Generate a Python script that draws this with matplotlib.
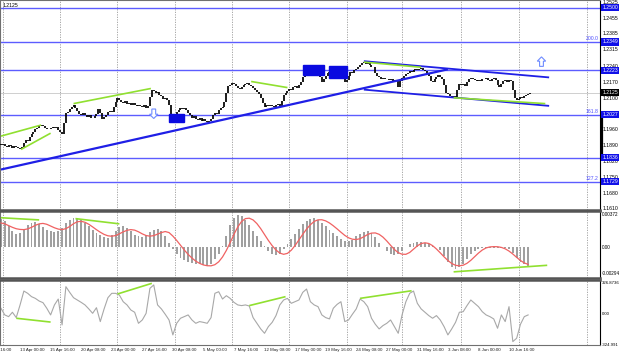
import matplotlib
matplotlib.use('Agg')
import matplotlib.pyplot as plt
import matplotlib.transforms as mtransforms
from matplotlib.patches import Rectangle, Polygon
import numpy as np

plt.rcParams['font.family'] = ['Liberation Sans', 'DejaVu Sans']

# EURUSD H4, 4-hour closes (bar 0 = 8 Apr 20:00)
first_open = 1.1898
closes = [
    1.1893, 1.1899, 1.1890, 1.1884, 1.1892, 1.1888, 1.1881, 1.1890, 1.1886, 1.1879,
    1.1874, 1.1885, 1.1902, 1.1915, 1.1909, 1.1928, 1.1941, 1.1952, 1.1964, 1.1970,
    1.1978, 1.1983, 1.1976, 1.1969, 1.1965, 1.1962, 1.1970, 1.1974, 1.1968, 1.1972,
    1.1960, 1.1952, 1.1943, 1.1990, 1.2034, 1.2041, 1.2050, 1.2061, 1.2068, 1.2056,
    1.2042, 1.2030, 1.2024, 1.2033, 1.2027, 1.2018, 1.2025, 1.2014, 1.2011, 1.2020,
    1.2028, 1.2052, 1.2036, 1.2009, 1.2015, 1.2026, 1.2038, 1.2045, 1.2041, 1.2063,
    1.2085, 1.2099, 1.2090, 1.2082, 1.2078, 1.2086, 1.2074, 1.2080, 1.2071, 1.2077,
    1.2069, 1.2064, 1.2072, 1.2066, 1.2060, 1.2068, 1.2057, 1.2064, 1.2105, 1.2136,
    1.2130, 1.2122, 1.2127, 1.2114, 1.2108, 1.2098, 1.2103, 1.2090, 1.2072, 1.2025,
    1.2015, 1.2020, 1.2038, 1.2049, 1.2055, 1.2051, 1.2058, 1.2046, 1.2033, 1.2024,
    1.2012, 1.2019, 1.2010, 1.2004, 1.2013, 1.2001, 1.2006, 1.1997, 1.1993, 1.1999,
    1.2008, 1.2027, 1.2035, 1.2029, 1.2046, 1.2057, 1.2062, 1.2085, 1.2121, 1.2152,
    1.2160, 1.2168, 1.2164, 1.2155, 1.2147, 1.2140, 1.2151, 1.2158, 1.2163, 1.2168,
    1.2160, 1.2152, 1.2146, 1.2137, 1.2128, 1.2117, 1.2103, 1.2078, 1.2061, 1.2070,
    1.2064, 1.2072, 1.2066, 1.2060, 1.2069, 1.2074, 1.2063, 1.2087, 1.2114, 1.2122,
    1.2131, 1.2140, 1.2136, 1.2148, 1.2152, 1.2145, 1.2160, 1.2170, 1.2195, 1.2221,
    1.2226, 1.2219, 1.2228, 1.2222, 1.2215, 1.2218, 1.2207, 1.2195, 1.2172, 1.2184,
    1.2200, 1.2212, 1.2218, 1.2214, 1.2221, 1.2226, 1.2219, 1.2211, 1.2205, 1.2198,
    1.2172, 1.2181, 1.2200, 1.2215, 1.2211, 1.2224, 1.2230, 1.2238, 1.2249, 1.2256,
    1.2262, 1.2251, 1.2258, 1.2245, 1.2240, 1.2236, 1.2212, 1.2200, 1.2193, 1.2186,
    1.2190, 1.2183, 1.2187, 1.2180, 1.2185, 1.2176, 1.2182, 1.2178, 1.2150, 1.2174,
    1.2190, 1.2197, 1.2205, 1.2212, 1.2222, 1.2218, 1.2226, 1.2229, 1.2224, 1.2231,
    1.2235, 1.2226, 1.2219, 1.2212, 1.2198, 1.2176, 1.2170, 1.2186, 1.2195, 1.2202,
    1.2196, 1.2185, 1.2160, 1.2124, 1.2118, 1.2108, 1.2103, 1.2109, 1.2104, 1.2135,
    1.2165, 1.2158, 1.2161, 1.2154, 1.2170, 1.2185, 1.2190, 1.2183, 1.2179, 1.2175,
    1.2181, 1.2178, 1.2186, 1.2183, 1.2188, 1.2180, 1.2177, 1.2184, 1.2189, 1.2182,
    1.2160, 1.2150, 1.2165, 1.2178, 1.2181, 1.2173, 1.2180, 1.2176, 1.2138, 1.2099,
    1.2092, 1.2097, 1.2105, 1.2101, 1.2108, 1.2112, 1.2117, 1.2125,
]

# MACD (every 2nd bar), units of 1e-4
macd_hist = [
    32.8, 29.9, 24.3, 18.5, 15.4, 16.6, 20.4, 25.2, 28.0, 29.2,
    26.9, 23.0, 20.4, 18.5, 17.7, 18.5, 22.2, 28.0, 31.7, 33.5,
    34.2, 32.8, 28.0, 24.3, 20.4, 16.6, 14.0, 11.7, 10.9, 14.7,
    19.2, 23.0, 24.3, 22.2, 18.5, 14.7, 12.8, 11.7, 14.0, 17.7,
    20.4, 20.8, 18.5, 12.8, 5.3, -2.3, -7.9, -11.7, -14.7, -16.2,
    -17.3, -18.5, -19.2, -20.3, -21.1, -19.2, -13.6, -7.9, 1.5, 12.8,
    26.0, 34.2, 37.3, 36.5, 31.7, 25.2, 18.5, 12.8, 7.0, 1.5,
    -4.1, -7.9, -8.6, -7.1, -2.3, 4.1, 10.2, 15.4, 21.5, 26.9,
    30.6, 32.8, 33.5, 31.7, 28.0, 24.3, 20.4, 16.6, 12.8, 10.2,
    7.9, 7.0, 9.0, 12.8, 15.4, 17.7, 18.5, 16.6, 11.7, 5.3,
    0.8, -4.1, -7.1, -8.6, -7.9, -4.1, 0.8, 3.4, 5.3, 6.4,
    6.4, 5.3, 3.4, 1.5, 0.0, -3.0, -9.8, -16.2, -22.2, -24.9,
    -23.0, -18.5, -13.6, -7.9, -4.1, -1.5, -0.8, -0.4, -0.8, -1.1,
    -0.8, -0.4, -0.8, -1.9, -6.0, -11.7, -16.2, -19.2, -21.1,
]
macd_signal = [
    28.0, 27.0, 25.0, 23.0, 21.4, 20.6, 20.4, 21.2, 23.0, 25.3,
    27.0, 27.5, 26.5, 24.5, 22.5, 21.0, 20.4, 21.5, 24.0, 27.2,
    29.4, 29.9, 28.8, 26.5, 23.5, 20.3, 17.4, 14.9, 13.3, 12.8,
    13.6, 15.6, 17.8, 19.6, 20.4, 19.8, 17.9, 15.5, 13.6, 12.9,
    13.5, 15.2, 17.0, 18.2, 17.0, 13.0, 8.0, 2.5, -3.0, -8.0,
    -12.2, -15.7, -18.3, -20.1, -21.0, -21.1, -19.8, -16.5, -11.0, -3.5,
    5.5, 15.0, 23.5, 29.8, 33.0, 33.5, 31.5, 27.3, 21.5, 14.8,
    8.0, 2.0, -3.0, -6.5, -7.9, -6.8, -3.2, 2.2, 8.6, 15.0,
    21.0, 26.0, 29.8, 31.6, 31.7, 30.4, 28.0, 24.8, 21.2, 17.4,
    13.8, 11.0, 9.4, 9.0, 10.0, 12.2, 14.8, 16.4, 16.6, 15.0,
    11.8, 7.4, 2.4, -2.4, -6.0, -7.8, -7.9, -5.8, -2.0, 1.8,
    4.4, 5.3, 4.5, 2.0, -1.8, -6.2, -10.8, -15.0, -18.4, -20.5,
    -21.1, -20.4, -18.2, -14.8, -10.6, -6.5, -3.0, -0.6, 0.6, 0.9,
    0.8, 0.0, -1.6, -4.2, -7.6, -11.4, -15.0, -17.8, -19.4,
]
# CCI (every 2nd bar)
cci = [
    60, -10, -28, 18, -38, 95, 241, 217, 182, 164,
    136, 119, 60, -10, 95, 157, -115, 287, 227, 171,
    147, 122, 95, 53, 7, 66, -80, 53, 171, 217,
    217, 199, 129, 95, 42, 18, -98, -63, 7, 270,
    305, 95, 53, -3, -63, -220, -98, -45, -28, -10,
    -63, -98, -80, -88, -98, -38, 217, 234, 157, 192,
    164, 122, 95, 88, 95, 84, -38, -98, -157, -203,
    -133, -88, -17, 95, 147, 164, 112, 129, 147, 227,
    262, 129, 95, 77, -10, -38, -52, 60, 101, 129,
    -80, -63, -3, 53, 157, 129, 77, -45, -108, -157,
    -122, -98, -63, -133, -203, -10, 129, 217, 241, 112,
    53, 18, -17, -45, -17, -63, -133, -220, -157, -88,
    18, 24, 88, 147, 112, 77, 24, -10, -28, -52,
    -150, -10, -80, 77, -290, -255, -108, -28, -10,
]

time_labels = ["8 Apr 16:00", "13 Apr 00:00", "15 Apr 16:00", "20 Apr 08:00",
               "23 Apr 00:00", "27 Apr 16:00", "30 Apr 08:00", "5 May 00:00",
               "7 May 16:00", "12 May 08:00", "17 May 00:00", "19 May 16:00",
               "24 May 08:00", "27 May 00:00", "31 May 16:00", "3 Jun 08:00",
               "8 Jun 00:00", "10 Jun 16:00"]
time_label_bars = [-7, 9, 25, 41, 57, 73, 89, 105, 121, 137, 153, 169,
                   185, 201, 217, 233, 249, 265]
grid_bars = [1, 31, 61, 91, 121, 151, 181, 210, 241, 271, 307]

price_ticks = [1.2525, 1.2455, 1.2385, 1.2315, 1.2240, 1.2170, 1.2100,
               1.1960, 1.1890, 1.1820, 1.1750, 1.1680, 1.1610]
levels = [1.2500, 1.2349, 1.2223, 1.2027, 1.1836, 1.1729]
fib_levels = {1.2349: "200.0", 1.2027: "161.8", 1.1729: "127.2"}

# drawn analysis lines: (bar, value) pairs
trend_up = [(0, 1.1784), (234, 1.2228)]
channel_top = [(190, 1.2264), (287, 1.2192)]
channel_bot = [(190, 1.2138), (287, 1.2066)]
green_main = [[(0, 1.1932), (21, 1.1981)], [(10.5, 1.1873), (26, 1.1945)],
              [(38, 1.2076), (78.5, 1.2143)], [(131, 1.2174), (150, 1.2147)],
              [(190, 1.2260), (220, 1.2237)], [(237, 1.2102), (285, 1.2076)]]
green_macd = [[(0, 34.0), (20, 31.5)], [(39, 33.0), (62, 27.0)],
              [(237, -28.0), (286, -20.5)]]
green_cci = [[(8, -45), (26, -85)], [(61, 210), (79, 322)],
             [(130, 88), (149, 182)], [(188, 164), (215, 244)]]
boxes = [(88, 96, 1.1995, 1.2031), (158, 169, 1.2201, 1.2246), (172, 181, 1.2188, 1.2242)]
arrows = [(80, 1.2031, 'down'), (283, 1.2262, 'up')]

W, H = 620, 357
fig = plt.figure(figsize=(W / 100, H / 100), dpi=100)
fig.patch.set_facecolor('white')
R = 600 / W
ax = fig.add_axes([0, 1 - 210 / H, R, 210 / H])
ax2 = fig.add_axes([0, 1 - 278 / H, R, 67 / H])
ax3 = fig.add_axes([0, 1 - 345 / H, R, 65 / H])

XMAX = 600 / 1.91
for a in (ax, ax2, ax3):
    a.set_xlim(-0.5, XMAX - 0.5)
    a.set_xticks([])
    a.set_yticks([])
    for s in a.spines.values():
        s.set_color('#707070')
        s.set_linewidth(0.8)
    a.spines['right'].set_color('black')
    for g in grid_bars:
        a.axvline(g, color='#9a9a9a', lw=0.6, ls=(0, (1.5, 1.5)), zorder=0)
for a, side in ((ax, 'bottom'), (ax2, 'top'), (ax2, 'bottom'), (ax3, 'top')):
    a.spines[side].set_linewidth(1.8)
    a.spines[side].set_color('#555555')

FS = 3.7
FT = 3.2
FL = 3.3
# ---------------- main panel
ymax, ymin = 1.2535, 1.2535 - 210 * 0.000443
ax.set_ylim(ymin, ymax)
x = np.arange(len(closes))
c = np.array(closes)
o = np.r_[first_open, c[:-1]]
lo = np.minimum(o, c)
hi = np.maximum(np.maximum(o, c), lo + 0.00025)
ax.vlines(x, lo, hi, color='black', lw=1.25, zorder=3)

ax.axhline(c[-1], color='#c8c8c8', lw=0.6, zorder=1)
for lv in levels:
    ax.axhline(lv, color='#5c5cff', lw=1.0, zorder=2)

def seg(a, pts, **kw):
    a.plot([p[0] for p in pts], [p[1] for p in pts], solid_capstyle='butt', **kw)

seg(ax, trend_up, color='#1f1fe6', lw=1.6, zorder=4)
seg(ax, channel_top, color='#1f1fe6', lw=1.3, zorder=4)
seg(ax, channel_bot, color='#1f1fe6', lw=1.3, zorder=4)
for g in green_main:
    seg(ax, g, color='#90e030', lw=1.2, zorder=5)
for b0, b1, p0, p1 in boxes:
    ax.add_patch(Rectangle((b0, p0), b1 - b0, p1 - p0, color='#0a0ae0', zorder=6))
for bx, py, d in arrows:
    s = -1 if d == 'down' else 1
    h, hh = 0.0021, 0.0002
    pts = [(bx - 1, py - s * h), (bx + 1, py - s * h), (bx + 1, py + s * hh),
           (bx + 2.2, py + s * hh), (bx, py + s * h), (bx - 2.2, py + s * hh),
           (bx - 1, py + s * hh)]
    ax.add_patch(Polygon(pts, closed=True, fc='white', ec='#6f8cff', lw=0.8, zorder=7))
ax.text(0.005, 0.988, '%.4f' % c[-1], transform=ax.transAxes, fontsize=FS,
        ha='left', va='top', color='black')

tr = mtransforms.blended_transform_factory(ax.transAxes, ax.transData)
for t in price_ticks:
    ax.text(1.004, t, '%.4f' % t, transform=tr, fontsize=FS, ha='left', va='center', clip_on=False)
for lv in levels:
    ax.text(1.004, lv, '%.4f' % lv, transform=tr, fontsize=FS, ha='left', va='center',
            color='white', clip_on=False, zorder=10,
            bbox=dict(boxstyle='square,pad=0.2', fc='#1010e8', ec='none'))
for lv, name in fib_levels.items():
    ax.text(0.997, lv + 0.0003, name, transform=tr, fontsize=FS, ha='right',
            va='bottom', color='#4d4dff')
ax.text(1.004, c[-1], '%.4f' % c[-1], transform=tr, fontsize=FS, ha='left', va='center',
        color='white', clip_on=False, zorder=11,
        bbox=dict(boxstyle='square,pad=0.2', fc='black', ec='none'))
ax.plot([1.003, 1.003], [levels[3], levels[4]], transform=tr, color='black', lw=1.6,
        clip_on=False, zorder=9)

# ---------------- MACD panel
xm = np.arange(0, 2 * len(macd_hist), 2)
hist = np.array(macd_hist) * 1e-4
sig = np.array(macd_signal) * 1e-4
ax2.set_ylim(-0.00294 - 5 * 0.000113, 0.00372 + 4 * 0.000113)
ax2.bar(xm, hist, width=1.0, color='#a0a0a0', lw=0, zorder=2)
ax2.plot(xm, sig, color='#f06262', lw=0.9, zorder=3)
for g in green_macd:
    seg(ax2, [(p[0], p[1] * 1e-4) for p in g], color='#90e030', lw=1.2, zorder=4)
tr2 = mtransforms.blended_transform_factory(ax2.transAxes, ax2.transData)
for v, s in [(0.00372, '0.00372'), (0.0, '0.00'), (-0.00294, '-0.00294')]:
    ax2.text(1.003, v, s, transform=tr2, fontsize=FL, ha='left', va='center', clip_on=False)

# ---------------- CCI panel
ax3.set_ylim(-326, 357)
ax3.plot(np.arange(0, 2 * len(cci), 2), cci, color='#a8a8a8', lw=0.8, zorder=2)
for g in green_cci:
    seg(ax3, g, color='#90e030', lw=1.2, zorder=3)
tr3 = mtransforms.blended_transform_factory(ax3.transAxes, ax3.transData)
for v, s in [(326.87, '326.8736'), (0.0, '0.00'), (-324.99, '-324.991')]:
    ax3.text(1.003, v, s, transform=tr3, fontsize=FL - 0.2, ha='left', va='center', clip_on=False)

trx = mtransforms.blended_transform_factory(ax3.transData, ax3.transAxes)
for b, s in zip(time_label_bars, time_labels):
    ax3.text(b + 0.8, -0.08, s, transform=trx, fontsize=FT, ha='left', va='center',
             clip_on=False, color='#202020')

fig.savefig('out.png', dpi=100, facecolor='white')
